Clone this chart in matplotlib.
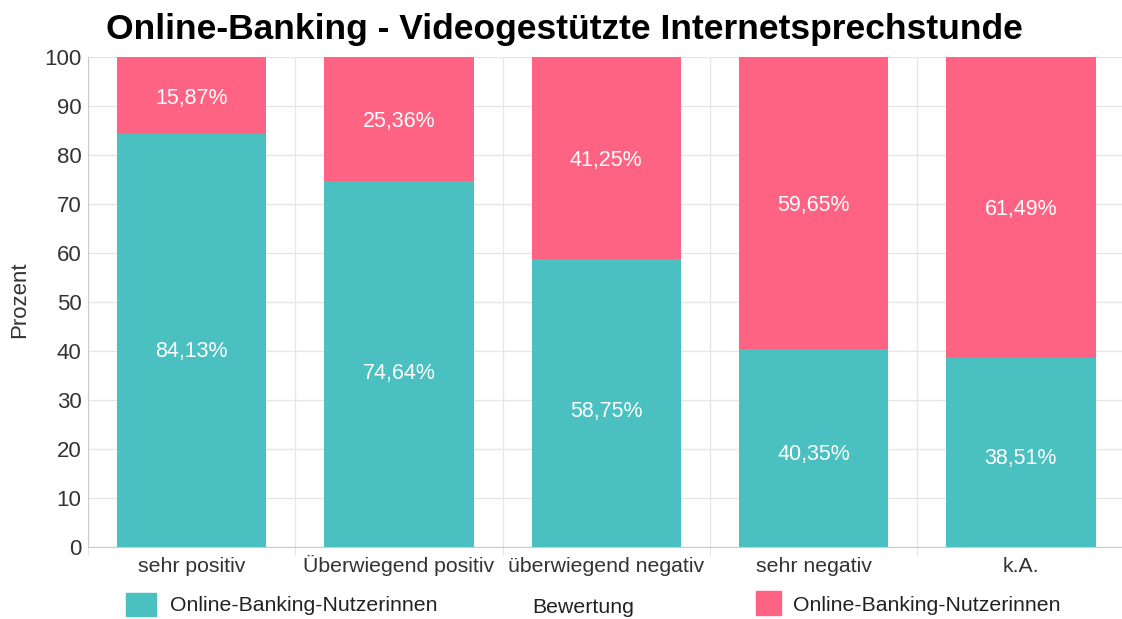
import matplotlib
matplotlib.use("Agg")
import matplotlib.pyplot as plt
from matplotlib.patches import Rectangle
import numpy as np

categories = ["sehr positiv", "Überwiegend positiv", "überwiegend negativ", "sehr negativ", "k.A."]
teal_vals = [84.13, 74.64, 58.75, 40.35, 38.51]
pink_vals = [15.87, 25.36, 41.25, 59.65, 61.49]
series_names = ["Online-Banking-Nutzerinnen", "Online-Banking-Nutzerinnen"]
yticks = [0, 10, 20, 30, 40, 50, 60, 70, 80, 90, 100]

TEAL = "#4BC0C0"
PINK = "#FF6384"
plt.rcParams['font.family'] = ['Liberation Sans', 'DejaVu Sans']

W, H = 1122, 619
fig = plt.figure(figsize=(W / 100, H / 100), dpi=100)
ax = fig.add_axes([0.0783, 0.1168, 0.924, 0.7916])

x = np.arange(len(categories))
w = 0.72
ax.bar(x, teal_vals, width=w, color=TEAL, zorder=3)
ax.bar(x, pink_vals, width=w, bottom=teal_vals, color=PINK, zorder=3)

for xi, t, p in zip(x, teal_vals, pink_vals):
    ax.text(xi, t * 0.48, f"{t:.2f}%".replace(".", ","), ha="center", va="center_baseline",
            color="white", fontsize=15.5, zorder=4)
    ax.text(xi, t + p / 2, f"{p:.2f}%".replace(".", ","), ha="center", va="center_baseline",
            color="white", fontsize=15.5, zorder=4)

ax.set_xlim(-0.5, len(categories) - 0.5)
ax.set_ylim(0, 100)
ax.set_yticks(yticks)
ax.set_yticklabels([str(v) for v in yticks])
ax.set_xticks(x)
ax.set_xticklabels([])
ax.set_xticks(np.arange(-0.5, len(categories)), minor=True)
ax.tick_params(axis="x", which="major", length=0)
ax.tick_params(axis="x", which="minor", length=6, color="#dddddd")
ax.tick_params(axis="y", length=0, pad=4.5, labelsize=16, labelcolor="#333333")
ax.grid(axis="y", color="#e6e6e6", linewidth=1, zorder=0)
ax.grid(axis="x", which="minor", color="#e6e6e6", linewidth=1, zorder=0)
for s in ["top", "right"]:
    ax.spines[s].set_visible(False)
ax.spines["left"].set_color("#cccccc")
ax.spines["bottom"].set_color("#cccccc")

# category labels, baseline aligned
trans = ax.get_xaxis_transform()
for xi, c in zip(x, categories):
    ax.text(xi, -(572 - 546.7) / (546.7 - 56.7), c, transform=trans, ha="center", va="baseline",
            fontsize=15.3, color="#333333", clip_on=False)

fig.text(20 / W, 1 - 300 / H, "Prozent", rotation=90, ha="center", va="center",
         fontsize=16, color="#333333")
fig.text(583 / W, 1 - 613 / H, "Bewertung", ha="center", va="baseline", fontsize=15.3, color="#222222")

fig.text(564 / W, 1 - 39 / H, "Online-Banking - Videogestützte Internetsprechstunde",
         ha="center", va="baseline", fontsize=25.5, fontweight="bold", color="black")

fig.patches.append(Rectangle((126 / W, 1 - 616 / H), 30 / W, 23 / H,
                             transform=fig.transFigure, color=TEAL, figure=fig))
fig.text(170 / W, 1 - 611 / H, series_names[0], ha="left", va="baseline", fontsize=15.3, color="#222222")
fig.patches.append(Rectangle((756 / W, 1 - 615 / H), 25 / W, 24 / H,
                             transform=fig.transFigure, color=PINK, figure=fig))
fig.text(793 / W, 1 - 611 / H, series_names[1], ha="left", va="baseline", fontsize=15.3, color="#222222")

fig.savefig("out.png", dpi=100)
